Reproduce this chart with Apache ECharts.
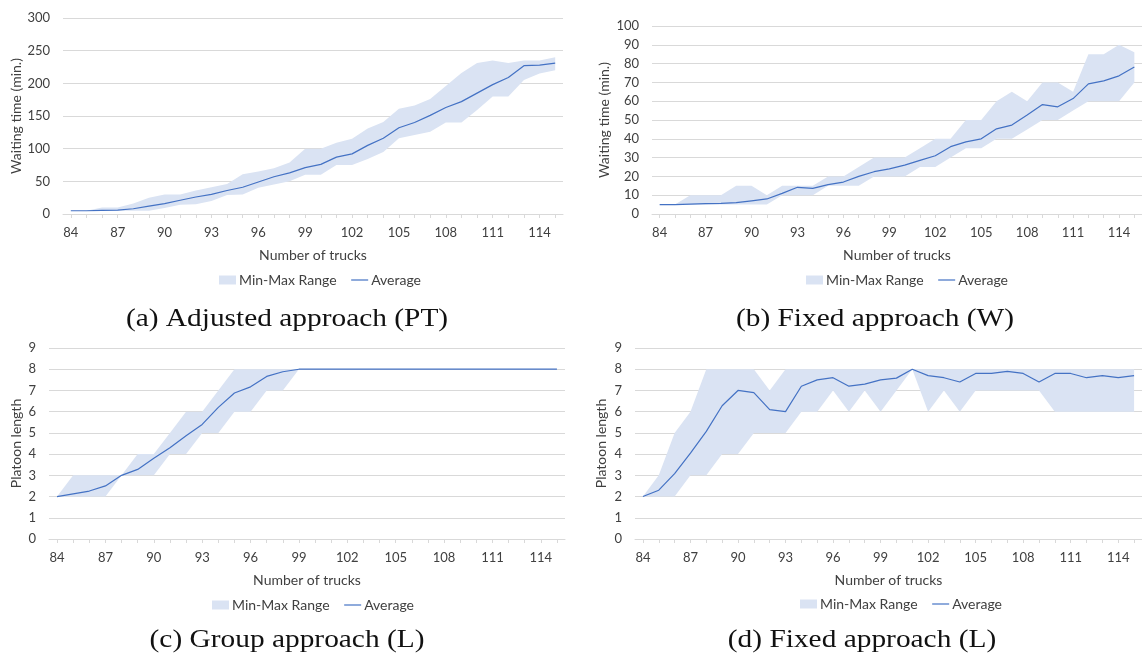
<!DOCTYPE html>
<html>
<head>
<meta charset="utf-8">
<script src="https://cdn.jsdelivr.net/npm/echarts@6/dist/echarts.min.js"></script>
<style>html,body{margin:0;padding:0;background:#fff}#c{width:1142px;height:657px}</style>
</head>
<body>
<div id="c"></div>
<script>
const categories = ['84','85','86','87','88','89','90','91','92','93','94','95','96','97','98','99','100','101','102','103','104','105','106','107','108','109','110','111','112','113','114','115'];

// (a) Adjusted approach (PT) - waiting time
const aMin = [5,5,5,5,5,5,9,14,15,20,29,30,40,45,50,60,60,75,75,84,95,116,121,126,140,140,159,180,180,205,215,220];
const aMax = [5,5,10,10,16,25,30,30,36,41,46,61,65,70,79,100,100,109,115,131,141,161,166,176,196,216,231,235,231,235,235,240];
const aAvg = [5,5,5.5,6,8,12,16,21,26,30,36,41,49,57,63,71,76,87,92,105,116,132,140,151,163,172,185,198,209,227,228,231];

// (b) Fixed approach (W) - waiting time
const bMin = [5,5,5,5,5,5,5,5,10,10,10,15,15,15,20,20,20,25,25,30,35,35,40,40,45,50,50,55,60,60,60,70];
const bMax = [5,5,10,10,10,15,15,10,15,15,15,20,20,25,30,30,30,35,40,40,50,50,60,65,60,70,70,65,85,85,90,86];
const bAvg = [5,5,5.3,5.5,5.7,6,7,8,11,14.2,13.6,15.6,17,20,22.5,24,26,28.5,31,35.8,38.4,40,45.3,47.3,52.6,58.2,57,61.4,69.2,70.8,73.5,78.2];

// (c) Group approach (L) - platoon length
const cMin = [2,2,2,2,3,3,3,4,4,5,5,6,6,7,7,8,8,8,8,8,8,8,8,8,8,8,8,8,8,8,8,8];
const cMax = [2,3,3,3,3,4,4,5,6,6,7,8,8,8,8,8,8,8,8,8,8,8,8,8,8,8,8,8,8,8,8,8];
const cAvg = [2,2.13,2.26,2.5,3,3.28,3.8,4.3,4.87,5.4,6.2,6.88,7.17,7.66,7.88,8,8,8,8,8,8,8,8,8,8,8,8,8,8,8,8,8];

// (d) Fixed approach (L) - platoon length
const dMin = [2,2,2,3,3,4,4,5,5,5,6,6,7,6,7,6,7,8,6,7,6,7,7,7,7,7,6,6,6,6,6,6];
const dMax = [2,3,5,6,8,8,8,8,7,8,8,8,8,8,8,8,8,8,8,8,8,8,8,8,8,8,8,8,8,8,8,8];
const dAvg = [2,2.3,3.08,4.05,5.07,6.28,7.0,6.9,6.1,6.0,7.2,7.5,7.6,7.2,7.3,7.5,7.58,8.0,7.7,7.6,7.4,7.8,7.8,7.9,7.8,7.4,7.8,7.8,7.6,7.7,7.6,7.7];

const captions = ['(a) Adjusted approach (PT)','(b) Fixed approach (W)','(c) Group approach (L)','(d) Fixed approach (L)'];

const BAND = '#dae3f3', LINE = '#4472c4', TXT = '#404040', GRIDC = '#d9d9d9';
const FONT = 'Lato';

const panels = [
  {grid:{left:63,right:579,top:18,bottom:443}, ymax:300, yint:50, yname:'Waiting time (min.)', nameGap:40, min:aMin, max:aMax, avg:aAvg, legend:{left:214,top:268}, cap:{x:287,y:319}},
  {grid:{left:652,right:-9,top:26,bottom:443}, ymax:100, yint:10, yname:'Waiting time (min.)', nameGap:41, min:bMin, max:bMax, avg:bAvg, legend:{left:801,top:268}, cap:{x:875,y:319}},
  {grid:{left:49,right:577,top:348,bottom:118}, ymax:9, yint:1, yname:'Platoon length', nameGap:26, min:cMin, max:cMax, avg:cAvg, legend:{left:207,top:593}, cap:{x:287,y:640}},
  {grid:{left:635,right:-9,top:348,bottom:118}, ymax:9, yint:1, yname:'Platoon length', nameGap:27, min:dMin, max:dMax, avg:dAvg, legend:{left:795,top:592}, cap:{x:862,y:640}}
];

const option = {
  backgroundColor:'#fff',
  animation:false,
  grid:[], xAxis:[], yAxis:[], series:[], legend:[], graphic:[]
};

panels.forEach((p,i)=>{
  option.grid.push(p.grid);
  option.xAxis.push({
    type:'category', gridIndex:i, data:categories, boundaryGap:true,
    name:'Number of trucks', nameLocation:'middle', nameGap:34,
    nameTextStyle:{fontFamily:FONT,fontSize:14,color:TXT},
    axisLine:{lineStyle:{color:GRIDC,width:1}},
    axisTick:{show:true,alignWithLabel:true,interval:0,length:4,lineStyle:{color:GRIDC}},
    axisLabel:{interval:2,fontFamily:FONT,fontSize:13,color:TXT,margin:12}
  });
  option.yAxis.push({
    type:'value', gridIndex:i, min:0, max:p.ymax, interval:p.yint,
    name:p.yname, nameLocation:'middle', nameGap:p.nameGap,
    nameTextStyle:{fontFamily:FONT,fontSize:14,color:TXT},
    axisLine:{show:false}, axisTick:{show:false},
    splitLine:{lineStyle:{color:GRIDC,width:1}},
    axisLabel:{fontFamily:FONT,fontSize:13,color:TXT,margin:13}
  });
  option.series.push({
    name:'_min'+i, type:'line', xAxisIndex:i, yAxisIndex:i, stack:'band'+i,
    data:p.min, symbol:'none', lineStyle:{opacity:0}, silent:true
  });
  option.series.push({
    name:'Min-Max Range', type:'line', xAxisIndex:i, yAxisIndex:i, stack:'band'+i,
    data:p.max.map((v,k)=>v-p.min[k]), symbol:'none',
    lineStyle:{opacity:0}, itemStyle:{color:BAND}, areaStyle:{color:BAND,opacity:1}
  });
  option.series.push({
    name:'Average', type:'line', xAxisIndex:i, yAxisIndex:i,
    data:p.avg, symbol:'none', itemStyle:{color:LINE}, lineStyle:{color:LINE,width:1.2}
  });
  option.legend.push({
    left:p.legend.left, top:p.legend.top, orient:'horizontal', itemGap:14,
    itemWidth:17, itemHeight:9, selectedMode:false,
    textStyle:{fontFamily:FONT,fontSize:14,color:TXT,padding:[0,0,0,-2]},
    data:[
      {name:'Min-Max Range',icon:'rect',itemStyle:{color:BAND}},
      {name:'Average',itemStyle:{opacity:0},lineStyle:{color:LINE,width:1.2}}
    ]
  });
  option.graphic.push({
    type:'text', x:p.cap.x, y:p.cap.y, scaleX:1.13,
    style:{text:captions[i], font:'26px "Liberation Serif"', fill:'#111', align:'center', verticalAlign:'middle'}
  });
});

const chart = echarts.init(document.getElementById('c'));
chart.setOption(option);
</script>
</body>
</html>
